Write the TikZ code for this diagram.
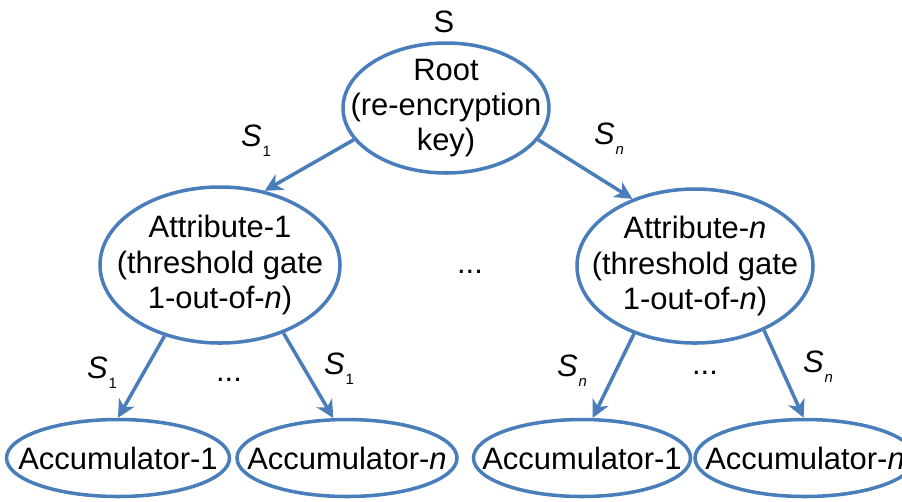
\documentclass[tikz,border=0pt]{standalone}
\usepackage{fontspec}
\setmainfont{Liberation Sans}
\usetikzlibrary{arrows.meta,shapes.geometric}
\definecolor{cedge}{HTML}{4A7EBB}
\tikzset{
  every picture/.style={>={Stealth[length=10pt,width=10pt,inset=3pt]}},
  ell/.style={ellipse, draw=cedge, line width=2pt, inner sep=0pt},
  txt/.style={align=center, inner sep=0pt, font=\fontsize{17.6}{20}\selectfont},
  lbl/.style={inner sep=0pt, font=\fontsize{17.6}{20}\selectfont},
  edge/.style={->, cedge, line width=2pt},
}
\newcommand{\Ssub}[1]{\textit{S}\kern0.5pt\raisebox{-5.5pt}{\fontsize{8.5}{8.5}\selectfont #1}}
\def\ya{458}

\begin{document}
\begin{tikzpicture}[x=0.2mm, y=-0.2mm]
  \useasboundingbox (0,0) rectangle (902,501);
  % ellipses
  \node[ell, minimum width=41.2mm, minimum height=26mm] (root) at (446,108) {};
  \node[ell, minimum width=48mm, minimum height=31.2mm] (att1) at (220,265) {};
  \node[ell, minimum width=47.2mm, minimum height=30.8mm] (attn) at (695,266) {};
  \node[ell, minimum width=44.6mm, minimum height=15.4mm] (acc11) at (118,\ya) {};
  \node[ell, minimum width=44mm, minimum height=15.4mm] (acc1n) at (347,\ya) {};
  \node[ell, minimum width=43.4mm, minimum height=15.4mm] (accn1) at (582,\ya) {};
  \node[ell, minimum width=44mm, minimum height=15.4mm] (accnn) at (805,\ya) {};
  % texts
  \node[txt] (root-t) at (root) {Root\\(re-encryption\\key)};
  \node[txt] (att1-t) at (att1) {Attribute-1\\(threshold gate\\1-out-of-\textit{n})};
  \node[txt] (attn-t) at (attn) {Attribute-\textit{n}\\(threshold gate\\1-out-of-\textit{n})};
  \node[txt] (acc11-t) at (acc11) {Accumulator-1};
  \node[txt] (acc1n-t) at (acc1n) {Accumulator-\textit{n}};
  \node[txt] (accn1-t) at (accn1) {Accumulator-1};
  \node[txt] (accnn-t) at (accnn) {Accumulator-\textit{n}};
  % edges
  \draw[edge] (root.199) -- (att1.59);
  \draw[edge] (root.341) -- (attn.133);
  \draw[edge] (att1.232) -- (acc11.90);
  \draw[edge] (att1.313) -- (acc1n.109);
  \draw[edge] (attn.228) -- (accn1.75);
  \draw[edge] (attn.317) -- (accnn.92);
  % labels
  \node[lbl] (s) at (444,22) {S};
  \node[lbl] (s1) at (256,141) {\Ssub{1}};
  \node[lbl] (sn) at (609,139) {\Ssub{\textit{n}}};
  \node[lbl] (s11) at (102,373) {\Ssub{1}};
  \node[lbl] (s12) at (339,369) {\Ssub{1}};
  \node[lbl] (sn1) at (572,371) {\Ssub{\textit{n}}};
  \node[lbl] (sn2) at (818,367) {\Ssub{\textit{n}}};
  \node[lbl] (dots) at (470,272) {...};
  \node[lbl] (dots1) at (229,380) {...};
  \node[lbl] (dotsn) at (705,373) {...};
\end{tikzpicture}
\end{document}
